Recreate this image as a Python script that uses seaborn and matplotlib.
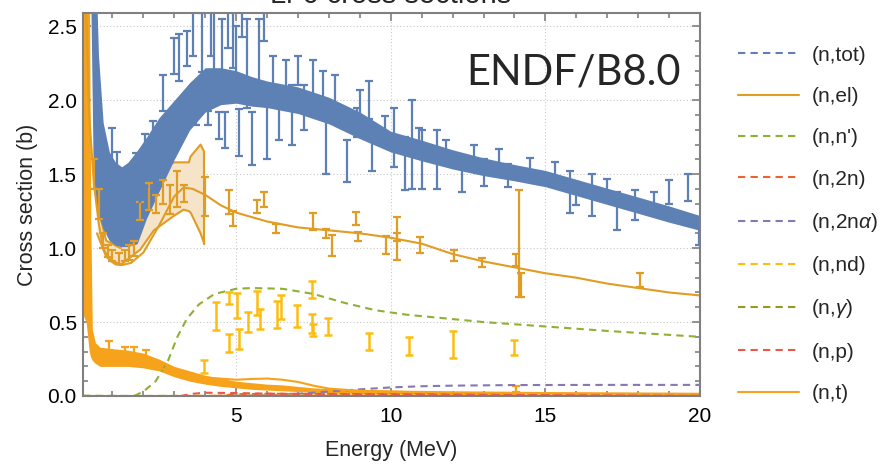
import numpy as np
import seaborn as sns
import matplotlib.pyplot as plt
from matplotlib.ticker import MultipleLocator

# ---------------------------------------
# Data (energy in MeV, sigma in b)
# ---------------------------------------
# dense (n,tot) measurements, drawn as an envelope
tot_band_e = [0.30, 0.38, 0.45, 0.55, 0.70, 0.90, 1.10, 1.30, 1.50, 1.80, 2.10, 2.50, 3.00, 3.50,
              4.00, 4.50, 5.00, 5.50, 6.00, 7.00, 8.00, 9.00, 10.0, 11.0, 12.0, 13.0, 14.0, 15.0,
              16.0, 17.0, 18.0, 19.0, 20.0]
tot_band_lo = [2.70, 1.50, 1.35, 1.22, 1.13, 1.05, 1.02, 1.01, 1.01, 1.03, 1.20, 1.38, 1.60, 1.80,
               1.92, 1.97, 1.98, 1.96, 1.95, 1.91, 1.84, 1.74, 1.65, 1.59, 1.535, 1.49, 1.455,
               1.415, 1.355, 1.295, 1.235, 1.175, 1.12]
tot_band_hi = [3.00, 3.00, 3.00, 2.30, 1.85, 1.65, 1.58, 1.55, 1.58, 1.66, 1.75, 1.88, 2.00, 2.12,
               2.22, 2.22, 2.20, 2.16, 2.13, 2.09, 2.02, 1.92, 1.79, 1.73, 1.665, 1.61, 1.565,
               1.525, 1.465, 1.405, 1.345, 1.285, 1.22]
# (n,tot) error bars sticking out of the band
tot_x = [0.98, 1.15, 1.45, 1.75, 2.05, 2.30, 2.65, 3.00, 3.15, 3.40, 3.60, 3.70, 3.90, 4.10, 4.20,
         4.30, 4.45, 4.55, 4.65, 4.75, 4.90, 5.00, 5.10, 5.20, 5.35, 5.50, 5.75, 5.90, 6.00, 6.20,
         6.40, 6.60, 6.80, 7.00, 7.20, 7.50, 7.80, 7.90, 8.20, 8.60, 8.90, 9.00, 9.30, 9.40, 9.80,
         10.10, 10.45, 10.70, 10.90, 11.00, 11.50, 11.80, 12.30, 12.70, 13.00, 13.50, 13.80, 14.50,
         15.30, 15.80, 16.00, 16.50, 17.00, 17.30, 17.90, 18.50, 19.00, 19.60, 19.95]
tot_y = [1.68, 1.55, 1.45, 1.58, 1.70, 1.80, 2.05, 2.30, 2.29, 2.35, 2.45, 1.88, 2.39, 1.88, 2.48,
         2.40, 1.83, 2.35, 1.80, 2.50, 2.42, 2.30, 1.78, 2.55, 2.25, 1.74, 2.30, 2.50, 1.80, 2.20,
         1.88, 2.15, 1.90, 2.20, 1.95, 2.15, 2.10, 1.70, 2.05, 1.59, 1.85, 1.97, 2.00, 1.65, 1.81,
         1.75, 1.57, 1.70, 1.75, 1.60, 1.60, 1.67, 1.48, 1.64, 1.51, 1.60, 1.49, 1.55, 1.52, 1.38,
         1.37, 1.36, 1.42, 1.25, 1.29, 1.32, 1.38, 1.41, 1.10]
tot_err = [0.13, 0.10, 0.08, 0.06, 0.07, 0.06, 0.12, 0.12, 0.16, 0.12, 0.15, 0.05, 0.20, 0.05, 0.18,
           0.25, 0.09, 0.20, 0.12, 0.15, 0.20, 0.20, 0.16, 0.12, 0.30, 0.18, 0.25, 0.10, 0.20, 0.10,
           0.15, 0.12, 0.20, 0.10, 0.15, 0.12, 0.10, 0.20, 0.12, 0.14, 0.10, 0.10, 0.13, 0.13, 0.08,
           0.20, 0.18, 0.30, 0.06, 0.20, 0.20, 0.06, 0.10, 0.06, 0.09, 0.07, 0.08, 0.06, 0.06, 0.14,
           0.08, 0.14, 0.05, 0.13, 0.10, 0.06, 0.08, 0.09, 0.08]

# (n,el) measurements
el_x = [0.40, 0.55, 0.70, 0.85, 1.00, 1.20, 1.40, 1.55, 1.70, 1.90, 2.18, 2.40, 2.65, 2.85, 3.10,
        3.30, 4.00, 4.77, 4.90, 5.69, 5.90, 6.30, 7.47, 7.90, 8.10, 8.88, 8.94, 9.86, 10.20, 10.20,
        10.96, 12.04, 12.94, 14.06, 14.15, 14.20, 18.06]
el_y = [1.50, 1.30, 1.05, 0.98, 0.95, 0.93, 0.95, 0.97, 1.00, 1.25, 1.35, 1.30, 1.38, 1.33, 1.40,
        1.37, 1.35, 1.31, 1.20, 1.28, 1.33, 1.13, 1.18, 1.10, 1.02, 1.20, 1.08, 1.02, 1.13, 1.01,
        1.02, 0.95, 0.905, 0.92, 1.03, 0.75, 0.785]
el_err = [0.10, 0.10, 0.05, 0.04, 0.04, 0.04, 0.04, 0.05, 0.05, 0.06, 0.09, 0.06, 0.08, 0.10, 0.12,
          0.06, 0.13, 0.08, 0.05, 0.045, 0.05, 0.03, 0.055, 0.03, 0.07, 0.045, 0.03, 0.06, 0.08,
          0.09, 0.055, 0.04, 0.03, 0.04, 0.36, 0.08, 0.05]
# (n,el) evaluation uncertainty envelope
elb_e = [0.50, 0.80, 1.26, 1.90, 2.34, 3.00, 3.30, 3.47, 3.53, 3.85, 3.97]
elb_lo = [1.10, 0.94, 0.885, 0.99, 1.12, 1.22, 1.26, 1.25, 1.24, 1.10, 1.03]
elb_hi = [1.30, 1.05, 1.00, 1.25, 1.52, 1.58, 1.58, 1.58, 1.62, 1.70, 1.65]

# (n,nd) measurements
nd_x = [3.96, 4.34, 4.77, 4.77, 5.04, 5.10, 5.37, 5.69, 5.77, 6.32, 6.45, 6.97, 7.46, 7.46, 7.50,
        7.97, 9.29, 10.60, 12.00, 14.00]
nd_y = [0.198, 0.54, 0.66, 0.36, 0.61, 0.385, 0.50, 0.63, 0.52, 0.55, 0.60, 0.54, 0.72, 0.49,
        0.445, 0.47, 0.37, 0.34, 0.35, 0.33]
nd_err = [0.045, 0.095, 0.04, 0.06, 0.085, 0.07, 0.07, 0.08, 0.07, 0.09, 0.08, 0.076, 0.056,
          0.065, 0.04, 0.06, 0.058, 0.06, 0.09, 0.05]

# dense (n,t) measurements, drawn as an envelope
t_band_e = [0.05, 0.15, 0.25, 0.30, 0.35, 0.45, 0.60, 1.00, 1.50, 2.00, 2.50, 3.00, 3.50, 4.00,
            4.50, 5.00, 5.50, 6.00, 6.50, 7.00, 7.50, 8.00, 9.00, 10.0, 11.0, 12.0, 13.0, 14.0]
t_band_lo = [0.55, 0.50, 0.30, 0.26, 0.24, 0.22, 0.20, 0.20, 0.20, 0.19, 0.17, 0.13, 0.10, 0.08,
             0.065, 0.055, 0.045, 0.04, 0.035, 0.03, 0.025, 0.02, 0.018, 0.015, 0.012, 0.01,
             0.01, 0.01]
t_band_hi = [3.00, 3.00, 3.00, 1.20, 0.45, 0.36, 0.33, 0.32, 0.31, 0.29, 0.25, 0.20, 0.17, 0.14,
             0.12, 0.10, 0.09, 0.08, 0.075, 0.065, 0.055, 0.05, 0.045, 0.04, 0.035, 0.03, 0.03,
             0.028]
t_x = [0.90, 1.42, 1.70, 2.10, 14.06]
t_y = [0.34, 0.29, 0.30, 0.28, 0.05]
t_err = [0.03, 0.04, 0.03, 0.03, 0.02]

# ENDF/B-VIII.0 evaluated curves
endf = {
    "(n,tot)": ([0.30, 0.45, 0.60, 0.80, 1.00, 1.30, 1.60, 2.00, 2.50, 3.00, 3.50, 4.00, 5.00, 6.00,
                 8.00, 10.0, 12.0, 14.0, 16.0, 18.0, 20.0],
                [3.00, 2.20, 1.70, 1.40, 1.25, 1.20, 1.22, 1.35, 1.60, 1.85, 2.00, 2.07, 2.08, 2.03,
                 1.92, 1.72, 1.60, 1.51, 1.41, 1.29, 1.17]),
    "(n,el)": ([0.08, 0.15, 0.25, 0.40, 0.55, 0.70, 0.90, 1.10, 1.30, 1.60, 2.00, 2.50, 3.00, 3.30,
                3.60, 4.00, 4.50, 5.00, 6.00, 7.00, 8.00, 9.00, 10.0, 11.0, 12.0, 13.0, 14.0, 15.0,
                16.0, 17.0, 18.0, 19.0, 20.0],
               [3.50, 2.60, 1.90, 1.44, 1.18, 1.00, 0.92, 0.89, 0.885, 0.90, 0.97, 1.15, 1.35, 1.41,
                1.40, 1.36, 1.29, 1.24, 1.18, 1.14, 1.12, 1.10, 1.07, 1.03, 0.96, 0.91, 0.87, 0.83,
                0.80, 0.76, 0.73, 0.70, 0.68]),
    "(n,n')": ([1.70, 2.00, 2.40, 2.80, 3.10, 3.40, 3.80, 4.30, 5.00, 5.50, 6.50, 7.50, 8.50, 9.50,
                10.5, 11.5, 13.0, 15.0, 17.0, 20.0],
               [0.0, 0.03, 0.10, 0.24, 0.40, 0.52, 0.62, 0.69, 0.725, 0.73, 0.725, 0.69, 0.63, 0.58,
                0.55, 0.53, 0.50, 0.47, 0.44, 0.40]),
    "(n,2n)": ([4.3, 5.0, 6.0, 8.0, 10.0, 12.0, 14.0, 17.0, 20.0],
               [0.0, 0.012, 0.015, 0.014, 0.012, 0.011, 0.010, 0.010, 0.010]),
    r"(n,2n$\alpha$)": ([4.5, 6.0, 7.0, 8.0, 9.0, 10.0, 11.0, 12.0, 14.0, 17.0, 20.0],
                        [0.0, 0.005, 0.015, 0.03, 0.045, 0.058, 0.066, 0.07, 0.074, 0.075, 0.075]),
    "(n,nd)": ([2.5, 5.0, 10.0, 20.0], [0.0, 0.002, 0.004, 0.004]),
    r"(n,$\gamma$)": ([0.05, 1.0, 5.0, 20.0], [0.002, 0.0005, 0.0002, 0.0002]),
    "(n,p)": ([3.2, 3.6, 4.0, 5.0, 6.0, 8.0, 10.0, 14.0, 20.0],
              [0.0, 0.015, 0.022, 0.02, 0.016, 0.012, 0.01, 0.008, 0.006]),
    "(n,t)": ([0.05, 0.10, 0.15, 0.20, 0.30, 0.50, 1.00, 2.00, 3.00, 4.00, 5.00, 5.50, 6.00, 6.50,
               7.00, 7.50, 8.00, 9.00, 10.0, 12.0, 15.0, 20.0],
              [3.0, 1.5, 0.9, 0.6, 0.38, 0.28, 0.25, 0.22, 0.16, 0.125, 0.11, 0.115, 0.118, 0.11,
               0.095, 0.07, 0.05, 0.035, 0.03, 0.025, 0.02, 0.015]),
}

colors = {
    "(n,tot)": "#5E81B5", "(n,el)": "#E19C24", "(n,n')": "#8FB032", "(n,2n)": "#EB6235",
    r"(n,2n$\alpha$)": "#8778B3", "(n,nd)": "#FDBD10", r"(n,$\gamma$)": "#949A1E",
    "(n,p)": "#E8594A", "(n,t)": "#F7A21B",
}
solid = {"(n,el)", "(n,t)"}

# ---------------------------------------
# Theme and fonts
# ---------------------------------------
sns.set_theme(style="ticks")
plt.rcParams["font.family"] = ["Liberation Sans", "DejaVu Sans"]
plt.rcParams["mathtext.fontset"] = "custom"
plt.rcParams["mathtext.rm"] = "Liberation Sans"
plt.rcParams["mathtext.it"] = "Liberation Sans:italic"

fig = plt.figure(figsize=(8.91, 4.65), dpi=100)
ax = fig.add_axes([0.0932, 0.1484, 0.6925, 0.8237])

# ---------------------------------------
# Measurements
# ---------------------------------------
ax.fill_between(elb_e, elb_lo, elb_hi, color="#F6E4C8", lw=0, zorder=1)
ax.plot(elb_e, elb_lo, color="#E19C24", lw=1.5, zorder=1.1)
ax.plot(elb_e, elb_hi, color="#E19C24", lw=1.5, zorder=1.1)
ax.plot([elb_e[-1], elb_e[-1]], [elb_lo[-1], elb_hi[-1]], color="#E19C24", lw=1.5, zorder=1.1)

ax.fill_between(tot_band_e, tot_band_lo, tot_band_hi, color="#5E81B5", lw=0, zorder=2)
ax.errorbar(tot_x, tot_y, yerr=tot_err, fmt="none", ecolor="#5E81B5",
            elinewidth=1.6, capsize=3, capthick=1.6, zorder=2)

ax.errorbar(el_x, el_y, yerr=el_err, fmt="none", ecolor="#E19C24",
            elinewidth=1.6, capsize=3, capthick=1.6, zorder=3)
ax.errorbar(nd_x, nd_y, yerr=nd_err, fmt="none", ecolor="#FDBD10",
            elinewidth=1.8, capsize=3, capthick=1.8, zorder=3)

ax.fill_between(t_band_e, t_band_lo, t_band_hi, color="#F7A21B", lw=0, zorder=3)
ax.errorbar(t_x, t_y, yerr=t_err, fmt="none", ecolor="#F7A21B",
            elinewidth=1.6, capsize=3, capthick=1.6, zorder=3)

# ---------------------------------------
# ENDF curves
# ---------------------------------------
handles = []
for name, (e, s) in endf.items():
    ls = "-" if name in solid else (0, (3.5, 2.5))
    sns.lineplot(x=e, y=s, ax=ax, color=colors[name], lw=1.5, linestyle=ls,
                 zorder=4, label=name, legend=False)
    handles.append(ax.lines[-1])

# ---------------------------------------
# Axes styling
# ---------------------------------------
ax.set_xlim(0.05, 20)
ax.set_ylim(0, 2.59)
ax.xaxis.set_major_locator(MultipleLocator(5))
ax.xaxis.set_minor_locator(MultipleLocator(1))
ax.yaxis.set_major_locator(MultipleLocator(0.5))
ax.yaxis.set_minor_locator(MultipleLocator(0.1))
ax.set_xticks([5, 10, 15, 20])
ax.set_xticklabels(["5", "10", "15", "20"])
ax.set_yticklabels([f"{v:.1f}" for v in ax.get_yticks()])
ax.grid(True, which="major", color="#c8c8c8", ls=(0, (1, 2)), lw=0.8)
ax.tick_params(which="both", direction="in", top=True, right=True, color="#808080",
               labelsize=15, labelcolor="black", width=1.2)
ax.tick_params(which="major", length=6)
ax.tick_params(which="minor", length=3.5)
ax.tick_params(axis="x", which="major", pad=8)
ax.tick_params(axis="y", which="major", pad=4.5)
for sp in ax.spines.values():
    sp.set_color("#808080")
    sp.set_linewidth(1.5)
    sp.set_zorder(6)

ax.set_xlabel("Energy (MeV)", fontsize=15.5, labelpad=10)
ax.set_ylabel("Cross section (b)", fontsize=15.5, labelpad=7)

ax.text(0.968, 0.845, "ENDF/B8.0", transform=ax.transAxes, ha="right", va="center",
        fontsize=30, family="Lato", zorder=7)
fig.text(0.438, 0.9925, "Li-6 cross sections", ha="center", va="baseline", fontsize=21)

labels = list(endf.keys())
fig.legend(handles, labels, loc="upper left", bbox_to_anchor=(0.8077, 0.942), frameon=False,
           fontsize=15, handlelength=2.9, handletextpad=0.6, labelspacing=1.07)

fig.savefig("out.png", dpi=100)
